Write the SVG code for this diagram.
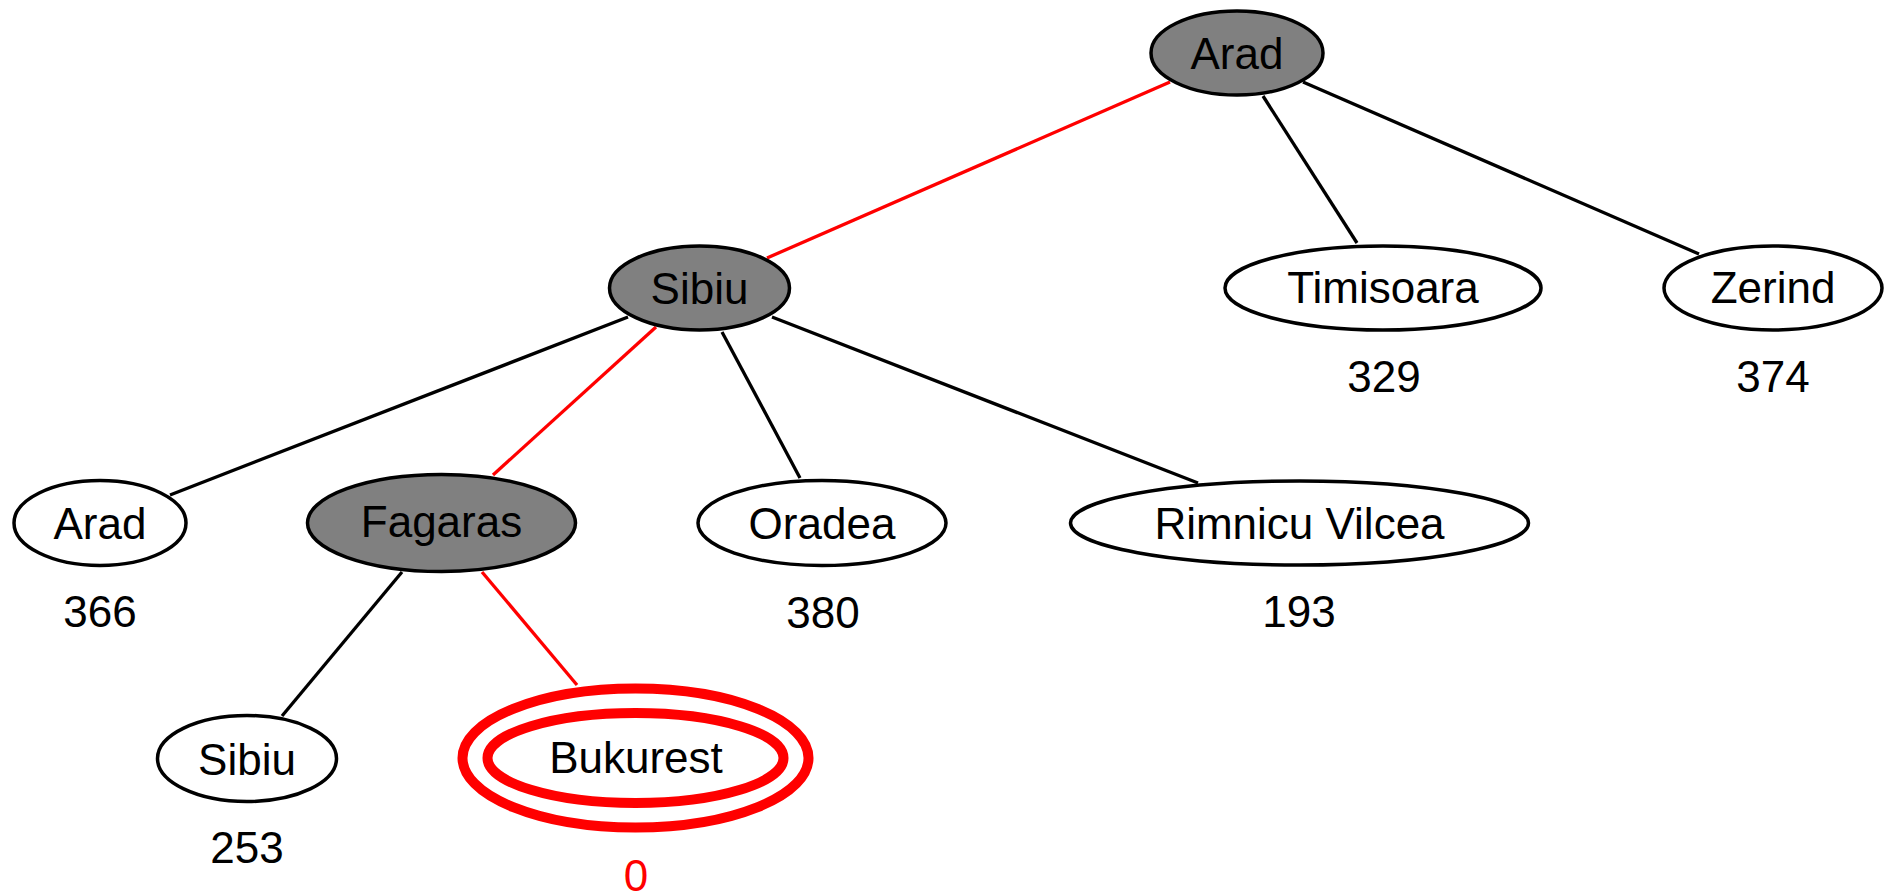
<svg xmlns="http://www.w3.org/2000/svg" width="1889" height="895" viewBox="0 0 1889 895">
<style>
.bg{fill:#ffffff}
.e{stroke:#000;stroke-width:3.3;fill:none}
.r{stroke:#ff0000;stroke-width:3.3;fill:none}
.n{fill:#ffffff;stroke:#000;stroke-width:3.5}
.g{fill:#808080;stroke:#000;stroke-width:3.5}
.goal{fill:none;stroke:#ff0000;stroke-width:10}
text{font-family:"Liberation Sans",Arial,sans-serif;font-size:44px;text-anchor:middle;fill:#000}
.hr{fill:#ff0000}
</style>
<rect class="bg" x="0" y="0" width="1889" height="895"/>
<g id="connectors">
<line class="r" x1="1170" y1="82" x2="767" y2="258"/>
<line class="e" x1="1263" y1="96" x2="1357" y2="243"/>
<line class="e" x1="1303" y1="82" x2="1699" y2="254"/>
<line class="e" x1="628" y1="317" x2="170" y2="495"/>
<line class="r" x1="656" y1="327" x2="493" y2="475"/>
<line class="e" x1="722" y1="332" x2="800" y2="478"/>
<line class="e" x1="772" y1="317" x2="1198" y2="483"/>
<line class="e" x1="402" y1="572" x2="282" y2="716"/>
<line class="r" x1="482" y1="572" x2="577" y2="685"/>
</g>
<g id="arad-root">
<ellipse class="g" cx="1237" cy="53" rx="86" ry="42"/>
<text x="1237" y="69">Arad</text>
</g>
<g id="timisoara">
<ellipse class="n" cx="1383" cy="288" rx="158" ry="42"/>
<text x="1383" y="303">Timisoara</text>
<text x="1384" y="392">329</text>
</g>
<g id="zerind">
<ellipse class="n" cx="1773" cy="288" rx="109" ry="42"/>
<text x="1773" y="303">Zerind</text>
<text x="1773" y="392">374</text>
</g>
<g id="sibiu">
<ellipse class="g" cx="699.5" cy="288" rx="90" ry="42"/>
<text x="699.5" y="304">Sibiu</text>
</g>
<g id="arad-leaf">
<ellipse class="n" cx="100" cy="523" rx="86" ry="42.5"/>
<text x="100" y="539">Arad</text>
<text x="100" y="627">366</text>
</g>
<g id="fagaras">
<ellipse class="g" cx="441.5" cy="523" rx="134" ry="48.5"/>
<text x="441.5" y="537">Fagaras</text>
</g>
<g id="oradea">
<ellipse class="n" cx="822" cy="523" rx="124" ry="42.5"/>
<text x="822" y="539">Oradea</text>
<text x="823" y="628">380</text>
</g>
<g id="rimnicu-vilcea">
<ellipse class="n" cx="1299.5" cy="523" rx="229" ry="42"/>
<text x="1299.5" y="539">Rimnicu Vilcea</text>
<text x="1299" y="627">193</text>
</g>
<g id="sibiu-leaf">
<ellipse class="n" cx="247" cy="758.5" rx="89.5" ry="43"/>
<text x="247" y="775">Sibiu</text>
<text x="247" y="863">253</text>
</g>
<g id="bukurest">
<ellipse class="goal" cx="635.5" cy="758" rx="173" ry="69.5"/>
<ellipse class="goal" cx="635.5" cy="758" rx="148" ry="45"/>
<text x="636" y="773">Bukurest</text>
<text class="hr" x="636" y="891">0</text>
</g>
</svg>
